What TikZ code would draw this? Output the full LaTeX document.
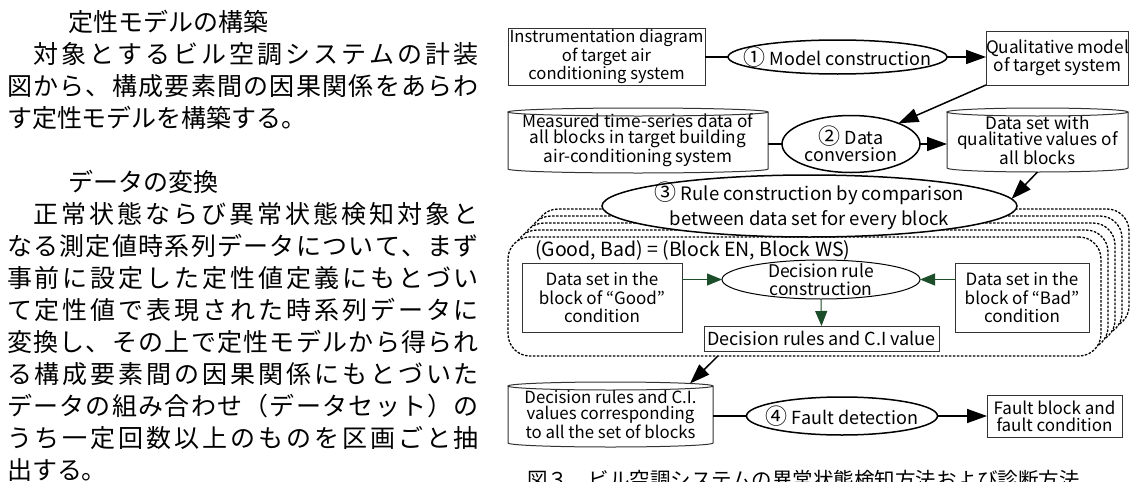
\documentclass[tikz,border=0pt]{standalone}
\usepackage{fontspec}
\setmainfont{Noto Sans CJK JP}
\usetikzlibrary{arrows.meta,calc,shapes.geometric}
\definecolor{dgreen}{RGB}{28,78,42}
\newcommand*\jend{}
\newcommand\jspread[1]{\ifx#1\jend\else#1\expandafter\jspreadB\fi}
\newcommand\jspreadB[1]{\ifx#1\jend\else\hfil#1\expandafter\jspreadB\fi}
\newcommand\jline[2]{\makebox[#1][s]{\jspread#2\jend}}
\newcommand\cn[1]{{\fontsize{22}{16}\selectfont #1}}
\newcommand\cylout[1]{%
  \draw[cylline] let \p1=(#1.north west), \p2=(#1.north east), \n1={(\x2-\x1)/2} in
    (#1.north west) -- (#1.south west) arc[start angle=180,end angle=360,x radius=\n1,y radius=4pt] -- (#1.north east)
    (#1.north) ellipse [x radius=\n1, y radius=4pt];}
\begin{document}
\begin{tikzpicture}[x=1pt,y=-1pt,
  every node/.style={inner sep=0pt, outer sep=0pt},
  jp/.style={anchor=west, font=\fontsize{25}{30}\selectfont},
  dg/.style={font=\fontsize{17.2}{16.3}\selectfont, align=center},
  eltxt/.style={font=\fontsize{18}{17}\selectfont, align=center},
  boxs/.style={draw=black!80, line width=1pt, dg, fill=white},
  ells/.style={draw, ellipse, line width=1.5pt, fill=white},
  cylline/.style={draw=black!80, line width=1pt},
  conn/.style={line width=1.5pt},
  barrow/.style={conn, -{Triangle[length=20pt,width=14pt]}},
  garrow/.style={draw=dgreen, line width=1pt, -{Triangle[length=15pt,width=12pt]}},
  dbox/.style={draw, dash pattern=on 2.5pt off 1.5pt, line width=1.3pt, rounded corners=22pt, fill=white},
]
\useasboundingbox (0,0) rectangle (1133,482);

% ---- left column text
\node[jp] (l0) at (68,22) {定性モデルの構築};
\node[jp] (l1) at (33,54) {\jline{446pt}{対象とするビル空調システムの計装}};
\node[jp] (l2) at (7,86) {\jline{472pt}{図から、構成要素間の因果関係をあらわ}};
\node[jp] (l3) at (7,118) {す定性モデルを構築する。};
\node[jp] (l5) at (68,182) {データの変換};
\node[jp] (l6) at (33,214) {\jline{446pt}{正常状態ならび異常状態検知対象と}};
\node[jp] (l7) at (7,246) {\jline{472pt}{なる測定値時系列データについて、まず}};
\node[jp] (l8) at (7,278) {\jline{472pt}{事前に設定した定性値定義にもとづい}};
\node[jp] (l9) at (7,310) {\jline{472pt}{て定性値で表現された時系列データに}};
\node[jp] (l10) at (7,342) {\jline{472pt}{変換し、その上で定性モデルから得られ}};
\node[jp] (l11) at (7,374) {\jline{472pt}{る構成要素間の因果関係にもとづいた}};
\node[jp] (l12) at (7,406) {\jline{472pt}{データの組み合わせ（データセット）の}};
\node[jp] (l13) at (7,438) {\jline{472pt}{うち一定回数以上のものを区画ごと抽}};
\node[jp] (l14) at (7,470) {出する。};

% ---- stacked dashed frames
\foreach \k in {4,3,2,1} {
  \draw[dbox] (508+7*\k,237-7*\k) rectangle (1101+7*\k,356-7*\k);
}
\node[dbox, minimum width=593pt, minimum height=119pt] (front) at (804.5,296.5) {};

% ---- row 1
\node[boxs, minimum width=197pt, minimum height=57pt, font=\fontsize{16.6}{16}\selectfont] (box1) at (606.5,56.5) {Instrumentation diagram\\of target air\\conditioning system};
\node[ells, minimum width=219pt, minimum height=34pt] (ell1) at (837.5,57) {};
\node[eltxt] (t1) at (ell1) {\cn{①} Model construction};
\node[boxs, minimum width=141pt, minimum height=54pt] (box2) at (1057.5,58) {Qualitative model\\of target system};

% ---- row 2
\node[dg, minimum width=260pt, minimum height=57pt] (cyl1) at (638,140.5) {Measured time-series data of\\all blocks in target building\\air-conditioning system};
\cylout{cyl1}
\node[ells, minimum width=138pt, minimum height=57pt] (ell2) at (851,144) {};
\node[eltxt] (t2) at (ell2) {\cn{②} Data\\conversion};
\node[dg, minimum width=181pt, minimum height=56pt] (cyl2) at (1037.5,140) {Data set with\\qualitative values of\\all blocks};
\cylout{cyl2}

% ---- row 3
\node[ells, minimum width=415pt, minimum height=62pt] (ell3) at (809.5,206) {};
\node[eltxt, font=\fontsize{18.5}{24.5}\selectfont] (t3) at (ell3) {\cn{③} Rule construction by comparison\\between data set for every block};

% ---- inside frame
\node[dg, anchor=west, font=\fontsize{19.5}{20}\selectfont] (gb) at (535,250) {(Good, Bad) = (Block EN, Block WS)};
\node[boxs, minimum width=160pt, minimum height=69pt, font=\fontsize{17}{18.5}\selectfont] (good) at (602,297.5) {Data set in the\\block of “Good”\\condition};
\node[draw, ellipse, line width=1pt, fill=white, minimum width=198pt, minimum height=39pt] (dec) at (821,279.5) {};
\node[dg, font=\fontsize{17.5}{18}\selectfont] (td) at (dec) {Decision rule\\construction};
\node[boxs, minimum width=134pt, minimum height=69pt, font=\fontsize{17}{18.5}\selectfont] (bad) at (1022,297.5) {Data set in the\\block of “Bad”\\condition};
\node[boxs, minimum width=235pt, minimum height=25pt, font=\fontsize{18}{18}\selectfont] (rules) at (821.5,338.5) {Decision rules and C.I value};

% ---- row 4
\node[dg, minimum width=205pt, minimum height=57pt, font=\fontsize{16.8}{15.8}\selectfont] (cyl3) at (610.5,414.5) {Decision rules and C.I.\\values corresponding\\to all the set of blocks};
\cylout{cyl3}
\node[ells, minimum width=191pt, minimum height=38pt] (ell4) at (842,416) {};
\node[eltxt] (t4) at (ell4) {\cn{④} Fault detection};
\node[boxs, minimum width=135pt, minimum height=42pt, font=\fontsize{17}{17}\selectfont] (box4) at (1054.5,416) {Fault block and\\fault condition};

% ---- caption (cut by page edge, as in the reference)
\node[anchor=west, font=\fontsize{20.5}{24}\selectfont] (cap) at (527,480) {図３　ビル空調システムの異常状態検知方法および診断方法};

% ---- connectors
\draw[conn] (box1.east |- ell1.west) -- (ell1.west);
\draw[barrow] (ell1.east) -- (ell1.east -| box2.west);
\draw[barrow] (box2.south west) -- (ell2);
\draw[conn] (ell2.west -| cyl1.east) -- (ell2.west);
\draw[barrow] (ell2.east) -- (ell2.east -| cyl2.west);
\draw[barrow] ([yshift=-4pt]cyl2.south) -- (ell3.2);
\draw[garrow] (dec.west -| good.east) -- (dec.west);
\draw[garrow] (dec.east -| bad.west) -- (dec.east);
\draw[garrow] (dec.south) -- (rules.north);
\draw[barrow] ($(front.south west)!0.354!(front.south east)$) -- ($(cyl3.north)+(79.5,-2.5)$);
\draw[conn] (ell4.west -| cyl3.east) -- (ell4.west);
\draw[barrow] (ell4.east) -- (ell4.east -| box4.west);
\end{tikzpicture}
\end{document}
